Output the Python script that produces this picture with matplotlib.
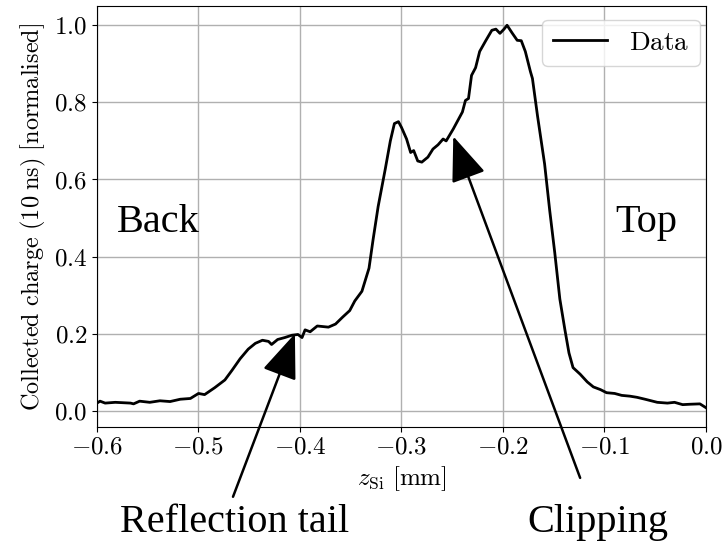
import matplotlib
matplotlib.use("Agg")
import matplotlib.pyplot as plt

plt.rcParams['font.family'] = 'serif'
plt.rcParams['font.serif'] = ['cmr10', 'DejaVu Serif']
plt.rcParams['mathtext.fontset'] = 'cm'
plt.rcParams['axes.formatter.use_mathtext'] = True
plt.rcParams['font.size'] = 18

z_mm = [-0.600, -0.597, -0.592, -0.582, -0.567, -0.564, -0.558, -0.548, -0.538, -0.528,
        -0.518, -0.508, -0.500, -0.494, -0.484, -0.474, -0.467, -0.459, -0.451, -0.444,
        -0.437, -0.431, -0.428, -0.422, -0.415, -0.408, -0.402, -0.398, -0.395, -0.390,
        -0.383, -0.372, -0.365, -0.358, -0.351, -0.346, -0.339, -0.332, -0.328, -0.323,
        -0.316, -0.311, -0.307, -0.303, -0.300, -0.295, -0.291, -0.288, -0.284, -0.280,
        -0.274, -0.269, -0.264, -0.259, -0.256, -0.249, -0.240, -0.237, -0.234, -0.231,
        -0.227, -0.223, -0.217, -0.211, -0.207, -0.203, -0.199, -0.196, -0.191, -0.186,
        -0.182, -0.178, -0.173, -0.171, -0.166, -0.159, -0.154, -0.149, -0.144, -0.139,
        -0.135, -0.131, -0.124, -0.117, -0.111, -0.104, -0.098, -0.090, -0.083, -0.075,
        -0.068, -0.060, -0.048, -0.038, -0.031, -0.023, -0.016, -0.006, 0.000]
charge = [0.020, 0.025, 0.020, 0.022, 0.020, 0.018, 0.025, 0.022, 0.026, 0.024,
          0.030, 0.032, 0.045, 0.042, 0.060, 0.080, 0.105, 0.135, 0.160, 0.175,
          0.183, 0.180, 0.172, 0.185, 0.190, 0.196, 0.198, 0.190, 0.210, 0.205,
          0.220, 0.217, 0.225, 0.243, 0.260, 0.285, 0.310, 0.370, 0.444, 0.530,
          0.627, 0.700, 0.745, 0.750, 0.735, 0.705, 0.670, 0.675, 0.648, 0.645,
          0.658, 0.679, 0.690, 0.705, 0.700, 0.731, 0.775, 0.805, 0.810, 0.870,
          0.890, 0.932, 0.960, 0.987, 0.990, 0.979, 0.990, 1.000, 0.980, 0.961,
          0.960, 0.932, 0.880, 0.862, 0.765, 0.640, 0.520, 0.410, 0.290, 0.210,
          0.150, 0.112, 0.095, 0.075, 0.062, 0.055, 0.047, 0.045, 0.040, 0.038,
          0.035, 0.030, 0.022, 0.020, 0.022, 0.016, 0.017, 0.018, 0.008]

fig = plt.figure(figsize=(7.26, 5.41), dpi=100)
ax = fig.add_axes([97/726, 1 - 427/541, (706 - 97)/726, (427 - 6)/541])
ax.plot(z_mm, charge, color='black', lw=2.0, label=r'$\mathrm{Data}$')
ax.set_xlim(-0.6, 0.0)
ax.set_ylim(-0.042, 1.05)
ax.grid(True, color='#b0b0b0', lw=1.0)
ax.set_axisbelow(True)
ax.set_xlabel(r'$z_{\mathrm{Si}}\ [\mathrm{mm}]$', fontsize=18, labelpad=4)
ax.set_ylabel(r'$\mathrm{Collected\ charge\ (10\;ns)\ [normalised]}$', fontsize=17.5)
ax.tick_params(labelsize=18)
ax.legend(loc='upper right', fontsize=19.5, borderaxespad=0.0,
          bbox_to_anchor=(0.99, 0.967))

ann_font = dict(family=['Liberation Serif', 'DejaVu Serif'], fontsize=29)
ax.text(-0.580, 0.465, 'Back', va='baseline', ha='left', **ann_font)
ax.text(-0.089, 0.465, 'Top', va='baseline', ha='left', **ann_font)
ax.text(-0.577, -0.314, 'Reflection tail', va='baseline', ha='left', clip_on=False, **ann_font)
ax.text(-0.176, -0.314, 'Clipping', va='baseline', ha='left', clip_on=False, **ann_font)

arrow = dict(arrowstyle='-|>,head_length=1.4,head_width=0.55', color='black', lw=1.8,
             mutation_scale=20, shrinkA=0, shrinkB=0)
ax.annotate('', xy=(-0.405, 0.200), xytext=(-0.466, -0.223), arrowprops=arrow,
            annotation_clip=False)
ax.annotate('', xy=(-0.249, 0.712), xytext=(-0.124, -0.174), arrowprops=arrow,
            annotation_clip=False)

fig.savefig('out.png', dpi=100)
